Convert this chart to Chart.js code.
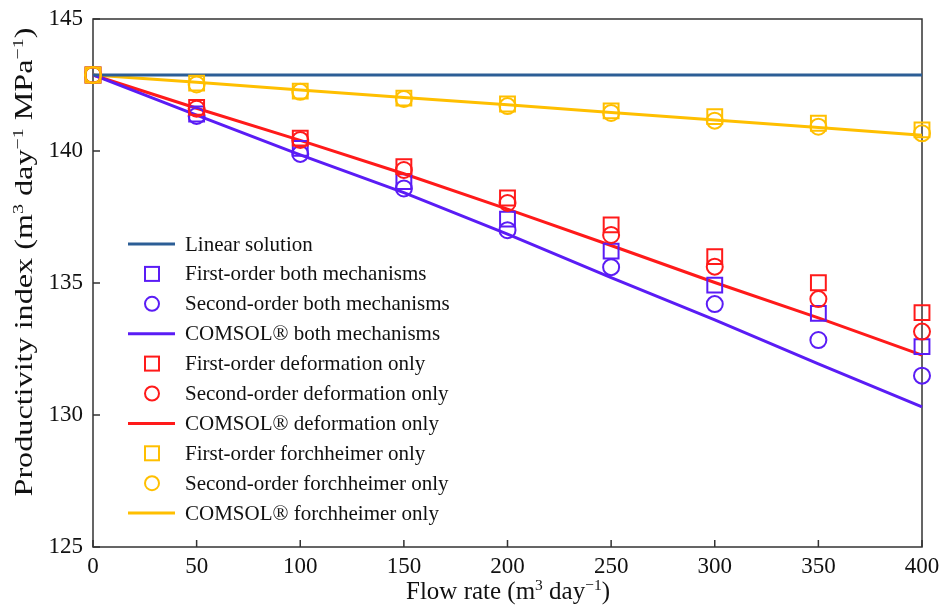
<!DOCTYPE html>
<html>
<head>
<meta charset="utf-8">
<script src="https://cdn.jsdelivr.net/npm/chart.js@4.4.1/dist/chart.umd.min.js"></script>
<style>
  html, body { margin: 0; padding: 0; background: #fff; }
  #wrap { width: 941px; height: 606px; position: relative; }
</style>
</head>
<body>
<div id="wrap"><canvas id="piChart"></canvas></div>
<script>
// flow rate, m3/day
const flowRate = [0, 50, 100, 150, 200, 250, 300, 350, 400];

// productivity index, m3 day-1 MPa-1
const linearSolution = [142.88, 142.88, 142.88, 142.88, 142.88, 142.88, 142.88, 142.88, 142.88];

const firstBoth = [142.88, 141.4, 140.1, 138.84, 137.42, 136.21, 134.92, 133.85, 132.59];
const secondBoth = [142.88, 141.33, 139.89, 138.58, 137.0, 135.6, 134.2, 132.84, 131.49];
const comsolBoth = [142.88, 141.36, 139.85, 138.42, 136.85, 135.2, 133.6, 131.94, 130.31];

const firstDeform = [142.88, 141.65, 140.49, 139.41, 138.22, 137.2, 136.0, 135.01, 133.88];
const secondDeform = [142.88, 141.6, 140.42, 139.28, 138.03, 136.82, 135.62, 134.39, 133.16];
const comsolDeform = [142.88, 141.62, 140.4, 139.14, 137.8, 136.42, 135.02, 133.68, 132.27];

const firstForch = [142.88, 142.57, 142.27, 142.0, 141.78, 141.52, 141.3, 141.05, 140.8];
const secondForch = [142.88, 142.52, 142.24, 141.97, 141.7, 141.44, 141.15, 140.92, 140.67];
const comsolForch = [142.88, 142.6, 142.31, 142.03, 141.75, 141.46, 141.17, 140.89, 140.6];

const xTicks = [0, 50, 100, 150, 200, 250, 300, 350, 400];
const yTicks = [125, 130, 135, 140, 145];

const BLUE = "#2c5e96";
const PURPLE = "#5a1cf5";
const RED = "#ff1a1a";
const YELLOW = "#ffbf00";
const SERIF = "'Liberation Serif', 'Times New Roman', serif";

function pts(ys) {
    return flowRate.map((x, i) => ({ x: x, y: ys[i] }));
}

function lineSet(label, ys, color) {
    return {
        label: label, data: pts(ys), showLine: true, kind: "line",
        borderColor: color, borderWidth: 3, pointRadius: 0, order: 10
    };
}

function markSet(label, ys, color, style, order) {
    return {
        label: label, data: pts(ys), showLine: false, kind: style,
        borderColor: color, backgroundColor: "rgba(0,0,0,0)", borderWidth: 2,
        pointStyle: style, pointRadius: style === "rect" ? 10.5 : 8, order: order
    };
}

// frame with inward ticks
const framePlugin = {
    id: "frame",
    beforeDatasetsDraw(chart) {
        const { ctx, chartArea: a, scales } = chart;
        ctx.save();
        ctx.strokeStyle = "#333";
        ctx.lineWidth = 1.5;
        ctx.strokeRect(a.left, a.top, a.right - a.left, a.bottom - a.top);
        ctx.beginPath();
        xTicks.forEach(v => {
            const px = scales.x.getPixelForValue(v);
            ctx.moveTo(px, a.bottom);
            ctx.lineTo(px, a.bottom - 7);
        });
        yTicks.forEach(v => {
            const py = scales.y.getPixelForValue(v);
            ctx.moveTo(a.left, py);
            ctx.lineTo(a.left + 7, py);
        });
        ctx.stroke();
        ctx.restore();
    }
};

// text runs with superscripts
function runsWidth(ctx, runs, size) {
    let w = 0;
    runs.forEach(r => {
        ctx.font = (r.sup ? size * 0.62 : size) + "px " + SERIF;
        w += ctx.measureText(r.t).width;
    });
    return w;
}

function drawRuns(ctx, runs, size, x, y) {
    runs.forEach(r => {
        ctx.font = (r.sup ? size * 0.62 : size) + "px " + SERIF;
        ctx.fillText(r.t, x, r.sup ? y - size * 0.38 : y);
        x += ctx.measureText(r.t).width;
    });
}

const xTitle = [{ t: "Flow rate (m" }, { t: "3", sup: true }, { t: " day" }, { t: "\u22121", sup: true }, { t: ")" }];
const yTitle = [{ t: "Productivity index (m" }, { t: "3", sup: true }, { t: " day" }, { t: "\u22121", sup: true },
    { t: " MPa" }, { t: "\u22121", sup: true }, { t: ")" }];

const titlePlugin = {
    id: "axisTitles",
    afterDraw(chart) {
        const ctx = chart.ctx;
        ctx.save();
        ctx.fillStyle = "#111";
        ctx.textBaseline = "alphabetic";
        ctx.textAlign = "left";

        const xs = 25;
        const xw = runsWidth(ctx, xTitle, xs);
        drawRuns(ctx, xTitle, xs, 508 - xw / 2, 599);

        const ys = 25;
        const yw = runsWidth(ctx, yTitle, ys);
        const stretch = 469 / yw;
        ctx.translate(32, 262);
        ctx.rotate(-Math.PI / 2);
        ctx.scale(stretch, 1);
        drawRuns(ctx, yTitle, ys, -yw / 2, 0);
        ctx.restore();
    }
};

const legendPlugin = {
    id: "boxLegend",
    afterDraw(chart) {
        const ctx = chart.ctx;
        const x0 = 128, x1 = 175, tx = 185;
        let y = 244;
        ctx.save();
        ctx.textBaseline = "middle";
        ctx.textAlign = "left";
        ctx.font = "21px " + SERIF;
        chart.data.datasets.forEach(ds => {
            ctx.strokeStyle = ds.borderColor;
            if (ds.kind === "line") {
                ctx.lineWidth = 3;
                ctx.beginPath();
                ctx.moveTo(x0, y);
                ctx.lineTo(x1, y);
                ctx.stroke();
            } else if (ds.kind === "rect") {
                ctx.lineWidth = 2;
                ctx.strokeRect(145, y - 7, 14, 14);
            } else {
                ctx.lineWidth = 2;
                ctx.beginPath();
                ctx.arc(152, y, 7, 0, Math.PI * 2);
                ctx.stroke();
            }
            ctx.fillStyle = "#111";
            ctx.fillText(ds.label, tx, y + 1);
            y += 29.9;
        });
        ctx.restore();
    }
};

new Chart(document.getElementById("piChart"), {
    type: "scatter",
    data: {
        datasets: [
            lineSet("Linear solution", linearSolution, BLUE),
            markSet("First-order both mechanisms", firstBoth, PURPLE, "rect", 5),
            markSet("Second-order both mechanisms", secondBoth, PURPLE, "circle", 4),
            lineSet("COMSOL\u00ae both mechanisms", comsolBoth, PURPLE),
            markSet("First-order deformation only", firstDeform, RED, "rect", 3),
            markSet("Second-order deformation only", secondDeform, RED, "circle", 2),
            lineSet("COMSOL\u00ae deformation only", comsolDeform, RED),
            markSet("First-order forchheimer only", firstForch, YELLOW, "rect", 1),
            markSet("Second-order forchheimer only", secondForch, YELLOW, "circle", 0),
            lineSet("COMSOL\u00ae forchheimer only", comsolForch, YELLOW)
        ]
    },
    options: {
        responsive: true,
        maintainAspectRatio: false,
        animation: false,
        clip: false,
        layout: { padding: { top: 19, right: 19, left: 0, bottom: 0 } },
        plugins: {
            legend: { display: false },
            tooltip: { enabled: false }
        },
        scales: {
            x: {
                type: "linear",
                min: 0,
                max: 400,
                afterFit: scale => {
                    scale.height = 59;
                    scale.paddingLeft = 0;
                    scale.paddingRight = 0;
                },
                afterBuildTicks: scale => { scale.ticks = xTicks.map(v => ({ value: v })); },
                grid: { display: false, drawTicks: false },
                border: { display: false },
                ticks: {
                    padding: 6,
                    maxRotation: 0,
                    autoSkip: false,
                    color: "#111",
                    font: { family: SERIF, size: 23 }
                }
            },
            y: {
                type: "linear",
                min: 125,
                max: 145,
                afterFit: scale => {
                    scale.width = 93;
                    scale.paddingTop = 0;
                    scale.paddingBottom = 0;
                },
                afterBuildTicks: scale => { scale.ticks = yTicks.map(v => ({ value: v })); },
                grid: { display: false, drawTicks: false },
                border: { display: false },
                ticks: {
                    padding: 10,
                    color: "#111",
                    font: { family: SERIF, size: 23 }
                }
            }
        }
    },
    plugins: [framePlugin, titlePlugin, legendPlugin]
});
</script>
</body>
</html>
